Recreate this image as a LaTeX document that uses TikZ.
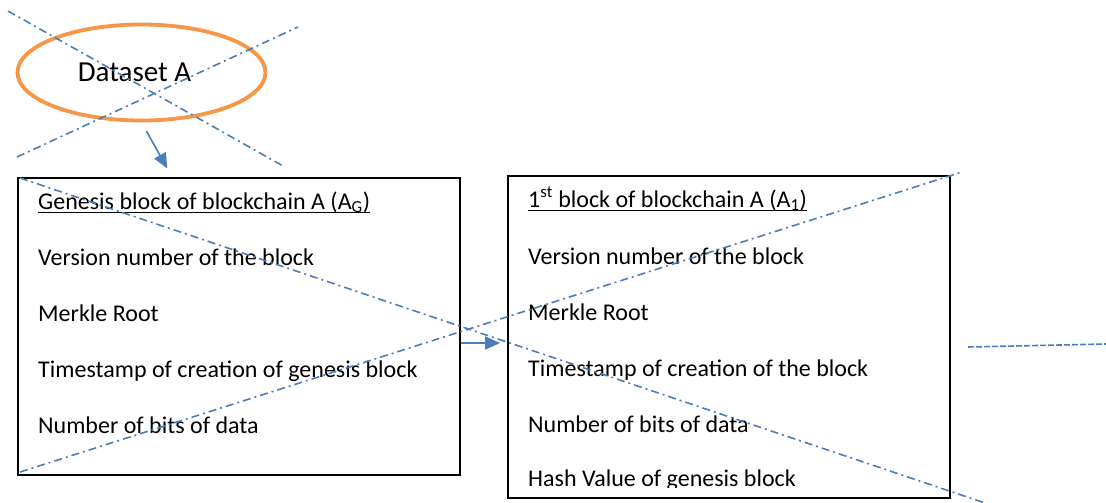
\documentclass[tikz,border=0pt]{standalone}
\usepackage{fontspec}
\setmainfont{Carlito}
\usetikzlibrary{shapes.geometric,arrows.meta}

\definecolor{blockline}{HTML}{4A7EBB}
\definecolor{dataorange}{HTML}{F79646}

\tikzset{
  blockbox/.style={draw,line width=1.8pt,rectangle,minimum width=442pt,inner sep=0pt},
  field/.style={anchor=base west,inner sep=0pt,font=\fontsize{24}{28}\selectfont},
  flow/.style={draw=blockline,line width=1.6pt,-{Triangle[length=15pt,width=13pt]}},
  strike/.style={draw=blockline,line width=1.6pt,dash pattern=on 8pt off 4pt on 2pt off 4pt},
}

\begin{document}
\begin{tikzpicture}[x=1pt,y=-1pt]
  \useasboundingbox (0,0) rectangle (1106,503);
  % dataset
  \node[ellipse,draw=dataorange,line width=3.8pt,minimum width=248pt,minimum height=96pt,
        inner sep=0pt,font=\fontsize{29}{32}\selectfont] (dsA) at (141.5,72.5) {\hspace*{-14pt}Dataset A};
  % the two blocks
  \node[blockbox,minimum height=297pt] (gbox) at (239,326.5) {};
  \node[blockbox,minimum height=322pt] (fbox) at (729,337) {};

  \node[field] (gtitle) at (38,209) {Genesis block of blockchain A (A\textsubscript{G})};
  \draw[line width=1.5pt] ([yshift=-3.5pt]gtitle.base west) -- ([yshift=-3.5pt]gtitle.base east);
  \node[field] (gver) at (38,265) {Version number of the block};
  \node[field] (gmr)  at (38,321) {Merkle Root};
  \node[field] (gts)  at (38,377) {Timestamp of creation of genesis block};
  \node[field] (gnb)  at (38,433) {Number of bits of data};

  \node[field] (ftitle) at (528,207) {1\textsuperscript{st} block of blockchain A (A\textsubscript{1})};
  \draw[line width=1.5pt] ([yshift=-3.5pt]ftitle.base west) -- ([yshift=-3.5pt]ftitle.base east);
  \node[field] (fver) at (528,264) {Version number of the block};
  \node[field] (fmr)  at (528,320) {Merkle Root};
  \node[field] (fts)  at (528,376) {Timestamp of creation of the block};
  \node[field] (fnb)  at (528,432) {Number of bits of data};
  \begin{scope}
    \clip (508,176) rectangle (950,487.5);
    \node[field] (fhv) at (528,486) {Hash Value of genesis block};
  \end{scope}

  % arrows
  \coordinate (gin) at (172.7,178);
  \coordinate (gout) at (gbox.east |- 0,343);
  \coordinate (fin) at (fbox.west |- 0,343);
  \draw[flow,shorten <=10pt,shorten >=11pt] (dsA.south) -- (gin);
  \draw[flow,shorten >=7pt] (gout) -- (fin);

  % crossed out
  \draw[strike] (8,11) -- (283,166);
  \draw[strike] (17,157) -- (298,27);
  \draw[strike] (20,178) -- (985,503);
  \draw[strike] (20,472) -- (962,172);
  \draw[draw=blockline,line width=1.6pt,dash pattern=on 6pt off 2pt] (968,347) -- (1106,344);
\end{tikzpicture}
\end{document}
